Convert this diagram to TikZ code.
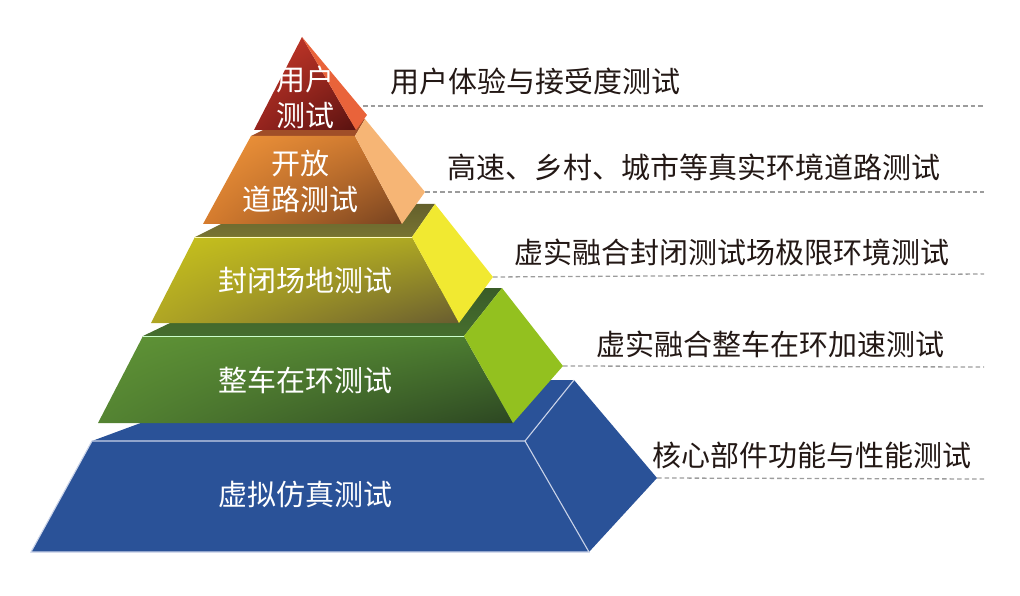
\documentclass[tikz,border=0pt]{standalone}
\usepackage{fontspec}
\usetikzlibrary{shadings}
\newfontfamily\cjk{Noto Sans CJK SC}
\definecolor{blueF}{HTML}{2A5298}
\definecolor{blueEdge}{HTML}{C9D3E8}
\definecolor{greenR}{HTML}{93C11F}
\definecolor{yellowR}{HTML}{F1E931}
\definecolor{orangeR}{HTML}{F6B575}
\definecolor{redR}{HTML}{E9633A}
\definecolor{labelC}{HTML}{231815}
\definecolor{dashC}{HTML}{9C9C9C}
% green
\definecolor{gTopA}{RGB}{58,92,40}
\definecolor{gTopB}{RGB}{70,110,46}
\definecolor{gUL}{RGB}{96,148,54}
\definecolor{gUR}{RGB}{74,122,48}
\definecolor{gLL}{RGB}{84,132,50}
\definecolor{gLR}{RGB}{44,70,34}
% yellow
\definecolor{yTopA}{RGB}{100,96,44}
\definecolor{yTopB}{RGB}{120,116,50}
\definecolor{yUL}{RGB}{200,194,28}
\definecolor{yUR}{RGB}{170,164,36}
\definecolor{yLL}{RGB}{176,166,36}
\definecolor{yLR}{RGB}{104,92,48}
% orange
\definecolor{oTop}{RGB}{160,78,40}
\definecolor{oUL}{RGB}{242,150,58}
\definecolor{oUR}{RGB}{200,116,46}
\definecolor{oLL}{RGB}{214,124,46}
\definecolor{oLR}{RGB}{118,66,32}
% red
\definecolor{rUL}{RGB}{200,58,42}
\definecolor{rUR}{RGB}{170,44,34}
\definecolor{rLL}{RGB}{150,36,30}
\definecolor{rLR}{RGB}{88,18,16}
\tikzset{
  facelabel/.style={text=white, font=\cjk\fontsize{29}{36}\selectfont, inner sep=0pt, align=center},
  sidelabel/.style={text=labelC, font=\cjk\fontsize{29}{34}\selectfont, inner sep=0pt},
  leader/.style={draw=dashC, line width=1.3pt, dash pattern=on 4.5pt off 3pt},
  lightedge/.style={draw=blueEdge, line width=1.1pt},
}
\begin{document}
\begin{tikzpicture}[x=1pt,y=-1pt]
\useasboundingbox (0,0) rectangle (1020,596);
% ---------- blue layer ----------
\fill[blueF] (92,441) -- (525,441) -- (574,380) -- (257,380) -- cycle;
\fill[blueF] (92,441) -- (525,441) -- (589,552) -- (31,552) -- cycle;
\fill[blueF] (525,441) -- (574,380) -- (657,478) -- (589,552) -- cycle;
\draw[lightedge] (31,552) -- (92,441) -- (525,441) -- (589,552) -- cycle;
\draw[lightedge] (525,441) -- (574,380);
\coordinate (bA) at (657,478);
% ---------- green layer ----------
\shade[top color=gTopA, bottom color=gTopB] (143,336) -- (464,336) -- (502,288) -- (243,288) -- cycle;
\shade[upper left=gUL, upper right=gUR, lower left=gLL, lower right=gLR] (143,336) -- (464,336) -- (513,423) -- (98,423) -- cycle;
\fill[greenR] (464,336) -- (502,288) -- (563,366) -- (513,423) -- cycle;
\draw[white!80!green, line width=0.8pt] (143,336) -- (464,336);
\coordinate (gA) at (563,366);
% ---------- yellow layer ----------
\shade[top color=yTopA, bottom color=yTopB] (195,237) -- (412,237) -- (435,204) -- (261,204) -- cycle;
\shade[upper left=yUL, upper right=yUR, lower left=yLL, lower right=yLR] (195,237) -- (412,237) -- (459,323) -- (151,323) -- cycle;
\fill[yellowR] (412,237) -- (435,204) -- (493,277) -- (459,323) -- cycle;
\draw[white!75!yellow, line width=0.8pt] (195,237) -- (412,237);
\coordinate (yA) at (493,277);
% ---------- orange layer ----------
\fill[oTop] (251,136) -- (355,136) -- (365,119) -- (285,119) -- cycle;
\shade[upper left=oUL, upper right=oUR, lower left=oLL, lower right=oLR] (251,136) -- (355,136) -- (402,224) -- (203,224) -- cycle;
\fill[orangeR] (355,136) -- (365,119) -- (425,192) -- (402,224) -- cycle;
\coordinate (oA) at (425,192);
% ---------- red layer ----------
\shade[upper left=rUL, upper right=rUR, lower left=rLL, lower right=rLR] (302,37) -- (356,130) -- (254,130) -- cycle;
\fill[redR] (302,37) -- (367,115) -- (356,130) -- cycle;
\coordinate (rA) at (363,106);
% ---------- leader lines ----------
\coordinate (rE) at (984,106);
\coordinate (oE) at (984,192);
\coordinate (yE) at (984,274);
\coordinate (gE) at (984,367);
\coordinate (bE) at (984,479);
\draw[leader] (rA) -- (rE);
\draw[leader] (oA) -- (oE);
\draw[leader] (yA) -- (yE);
\draw[leader] (gA) -- (gE);
\draw[leader] (bA) -- (bE);
% ---------- layer labels ----------
\node[facelabel] (t1) at (305,97) {用户\\测试};
\node[facelabel] (t2) at (300,181) {开放\\道路测试};
\node[facelabel, anchor=base] (t3) at (305,291) {封闭场地测试};
\node[facelabel, anchor=base] (t4) at (305,391) {整车在环测试};
\node[facelabel, anchor=base] (t5) at (305,505) {虚拟仿真测试};
% ---------- side labels ----------
\node[sidelabel, anchor=base west] (s1) at (390,93) {用户体验与接受度测试};
\node[sidelabel, anchor=base west] (s2) at (447,179) {高速、乡村、城市等真实环境道路测试};
\node[sidelabel, anchor=base west] (s3) at (514,263) {虚实融合封闭测试场极限环境测试};
\node[sidelabel, anchor=base west] (s4) at (596,355) {虚实融合整车在环加速测试};
\node[sidelabel, anchor=base west] (s5) at (652,466) {核心部件功能与性能测试};
\end{tikzpicture}
\end{document}
